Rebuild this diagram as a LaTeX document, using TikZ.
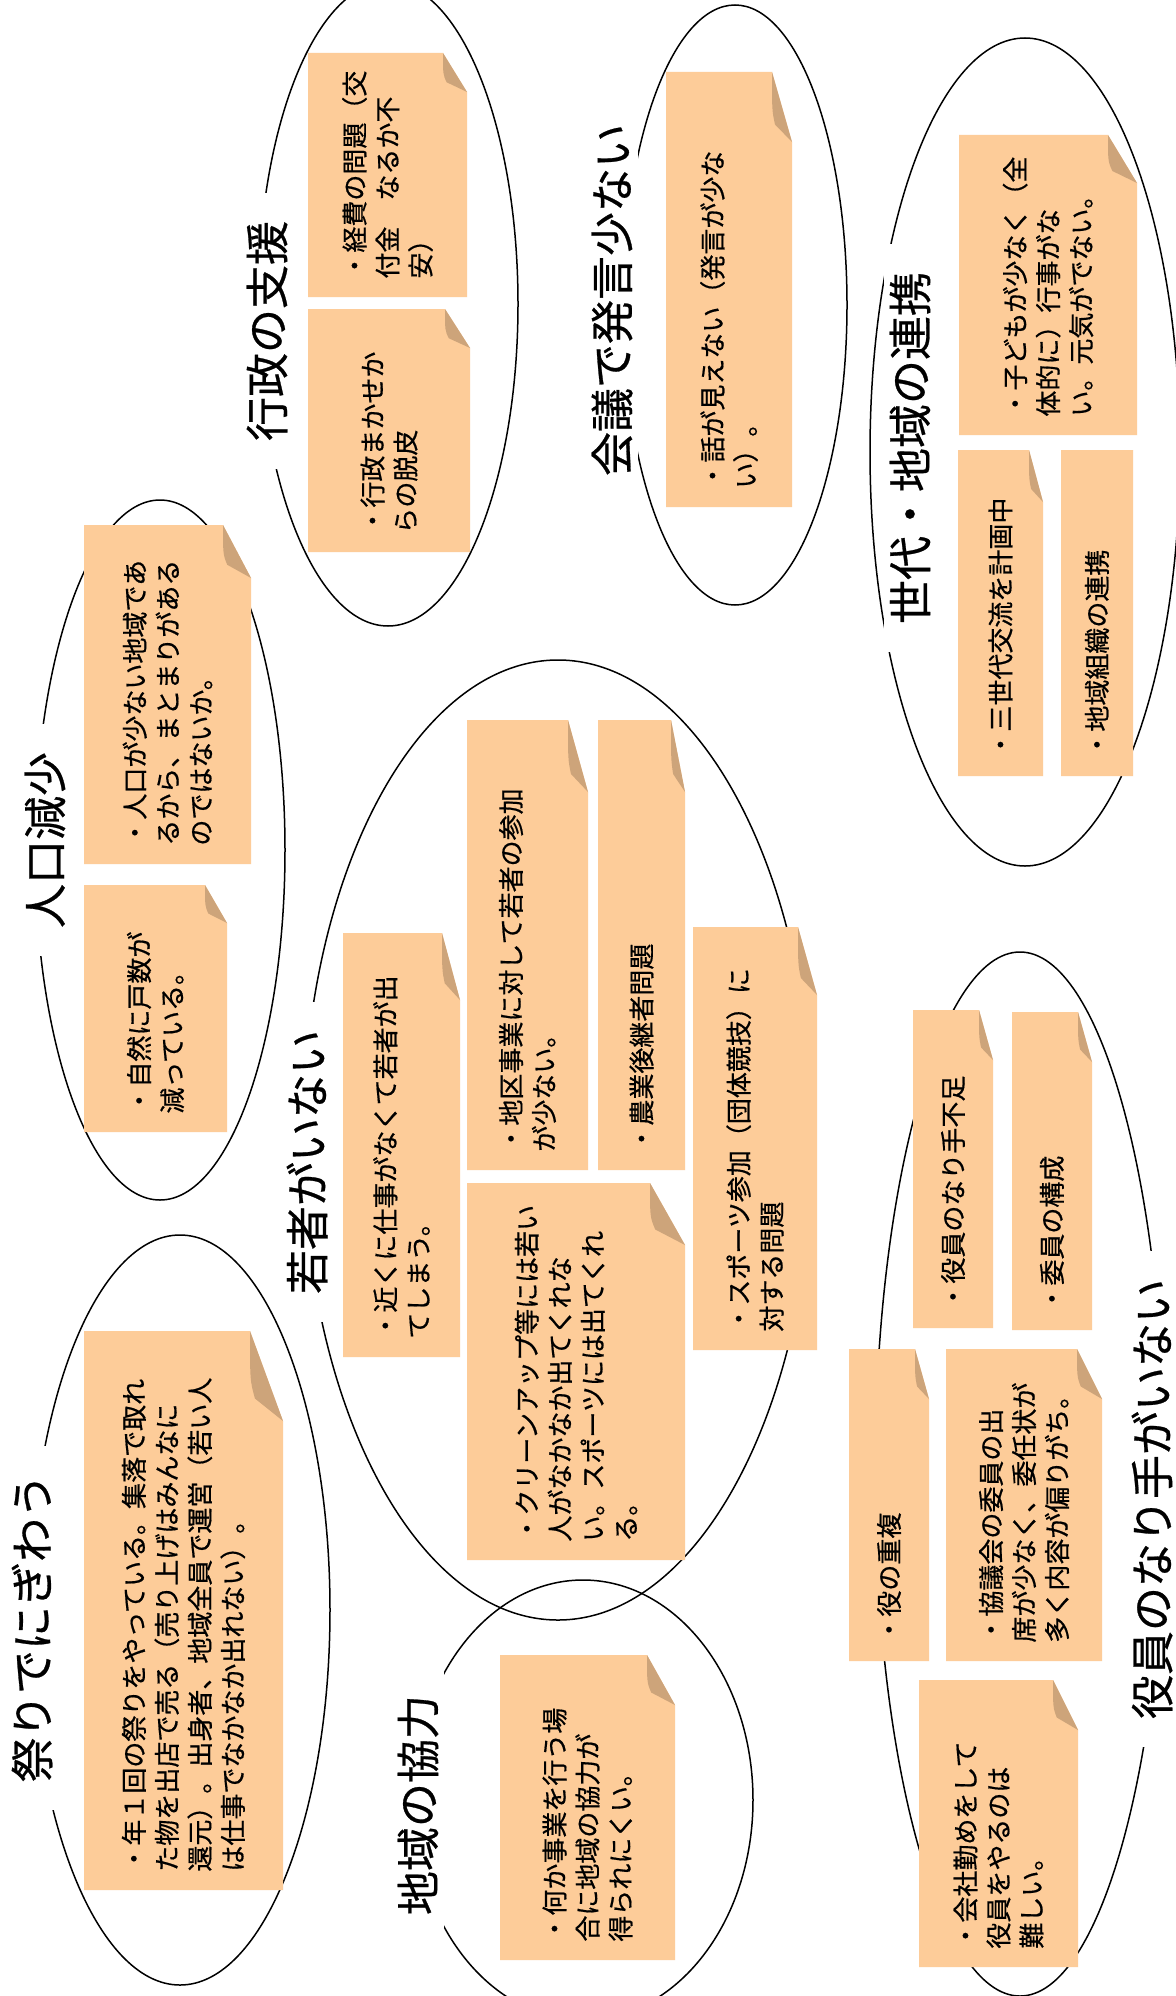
\documentclass[tikz,border=0pt]{standalone}
\usepackage{fontspec}
\setmainfont{Noto Sans CJK JP}[FakeBold=0.6]
\definecolor{NoteClr}{RGB}{253,204,153}
\definecolor{FoldClr}{RGB}{205,164,122}
% name, left, top, right, bottom, fold x, fold y, text
\newcommand{\StickyNote}[8]{%
  \fill[NoteClr] (#2,#3) -- ({#4-#6},#3) -- (#4,{#3+#7}) -- (#4,#5) -- (#2,#5) -- cycle;
  \fill[FoldClr] ({#4-#6},#3) .. controls ({#4-#6},{#3+0.55*#7}) .. ({#4-0.85*#6},{#3+0.75*#7}) -- (#4,{#3+#7}) -- cycle;
  \node[NoteText] (#1) at ({(#2+#4)/2},{#5-18}) {#8};}

\begin{document}
\begin{tikzpicture}[x=0.5pt,y=-0.5pt,
  Bubble/.style={line width=0.75pt},
  Topic/.style={rotate=90,fill=white,inner xsep=14pt,inner ysep=3pt,font=\fontsize{22}{26}\selectfont},
  NoteText/.style={rotate=90,anchor=west,align=left,inner sep=0pt,font=\fontsize{13}{16.5}\selectfont}]
\useasboundingbox[fill=white] (0,0) rectangle (1175,1996);

% bubbles
\draw[Bubble] (180,1610) ellipse [x radius=150, y radius=375];
\draw[Bubble] (160,850) ellipse [x radius=125, y radius=350];
\draw[Bubble] (388,304) ellipse [x radius=130, y radius=322];
\draw[Bubble] (735,305) ellipse [x radius=112, y radius=300];
\draw[Bubble] (1025,452) ellipse [x radius=155, y radius=414];
\draw[Bubble] (558,1140) ellipse [x radius=255, y radius=480];
\draw[Bubble] (583,1800) ellipse [x radius=170, y radius=220];
\draw[Bubble] (1020,1474) ellipse [x radius=145, y radius=522];

% topics
\node[Topic] (matsuri) at (32,1628) {祭りでにぎわう};
\node[Topic] (jinko) at (45,840) {人口減少};
\node[Topic] (gyosei) at (267,331) {行政の支援};
\node[Topic] (kaigi) at (612,300) {会議で発言少ない};
\node[Topic] (sedai) at (910,448) {世代・地域の連携};
\node[Topic] (wakamono) at (307,1162) {若者がいない};
\node[Topic] (kyoryoku) at (418,1805) {地域の協力};
\node[Topic] (yakuin) at (1152,1499) {役員のなり手がいない};

% notes
\StickyNote{matsuriA}{84}{1331}{283}{1890}{33}{90}{・年１回の祭りをやっている。集落で取れ\\た物を出店で売る（売り上げはみんなに\\還元）。出身者、地域全員で運営（若い人\\は仕事でなかなか出れない）。}
\StickyNote{jinkoA}{84}{885}{227}{1132}{22}{38}{・自然に戸数が\\減っている。}
\StickyNote{jinkoB}{84}{525}{251}{864}{28}{53}{・人口が少ない地域であ\\るから、まとまりがある\\のではないか。}
\StickyNote{gyoseiA}{308}{53}{467}{297}{24}{39}{・経費の問題（交\\付金　なるか不\\安）}
\StickyNote{gyoseiB}{308}{309}{470}{552}{25}{39}{・行政まかせか\\らの脱皮}
\StickyNote{kaigiA}{666}{72}{792}{507}{20}{70}{・話が見えない（発言が少な\\い）。}
\StickyNote{sedaiA}{959}{135}{1137}{435}{29}{48}{・子どもが少なく（全\\体的に）行事がな\\い。元気がでない。}
\StickyNote{sedaiB}{958}{450}{1043}{776}{14}{52}{・三世代交流を計画中}
\StickyNote{sedaiC}{1061}{450}{1133}{776}{0}{0}{・地域組織の連携}
\StickyNote{wakamonoA}{343}{933}{460}{1357}{18}{67}{・近くに仕事がなくて若者が出\\てしまう。}
\StickyNote{wakamonoB}{467}{720}{588}{1170}{20}{72}{・地区事業に対して若者の参加\\が少ない。}
\StickyNote{wakamonoC}{598}{720}{685}{1170}{14}{72}{・農業後継者問題}
\StickyNote{wakamonoD}{467}{1183}{685}{1560}{35}{62}{・クリーンアップ等には若い\\人がなかなか出てくれな\\い。スポーツには出てくれ\\る。}
\StickyNote{wakamonoE}{693}{927}{817}{1350}{19}{68}{・スポーツ参加（団体競技）に\\対する問題}
\StickyNote{kyoryokuA}{500}{1655}{675}{1960}{28}{50}{・何か事業を行う場\\合に地域の協力が\\得られにくい。}
\StickyNote{yakuinA}{913}{1010}{993}{1328}{14}{50}{・役員のなり手不足}
\StickyNote{yakuinB}{1012}{1012}{1092}{1330}{14}{50}{・委員の構成}
\StickyNote{yakuinC}{849}{1349}{929}{1661}{14}{50}{・役の重複}
\StickyNote{yakuinD}{946}{1349}{1102}{1661}{25}{50}{・協議会の委員の出\\席が少なく、委任状が\\多く内容が偏りがち。}
\StickyNote{yakuinE}{919}{1680}{1078}{1967}{25}{50}{・会社勤めをして\\役員をやるのは\\難しい。}

\end{tikzpicture}
\end{document}
